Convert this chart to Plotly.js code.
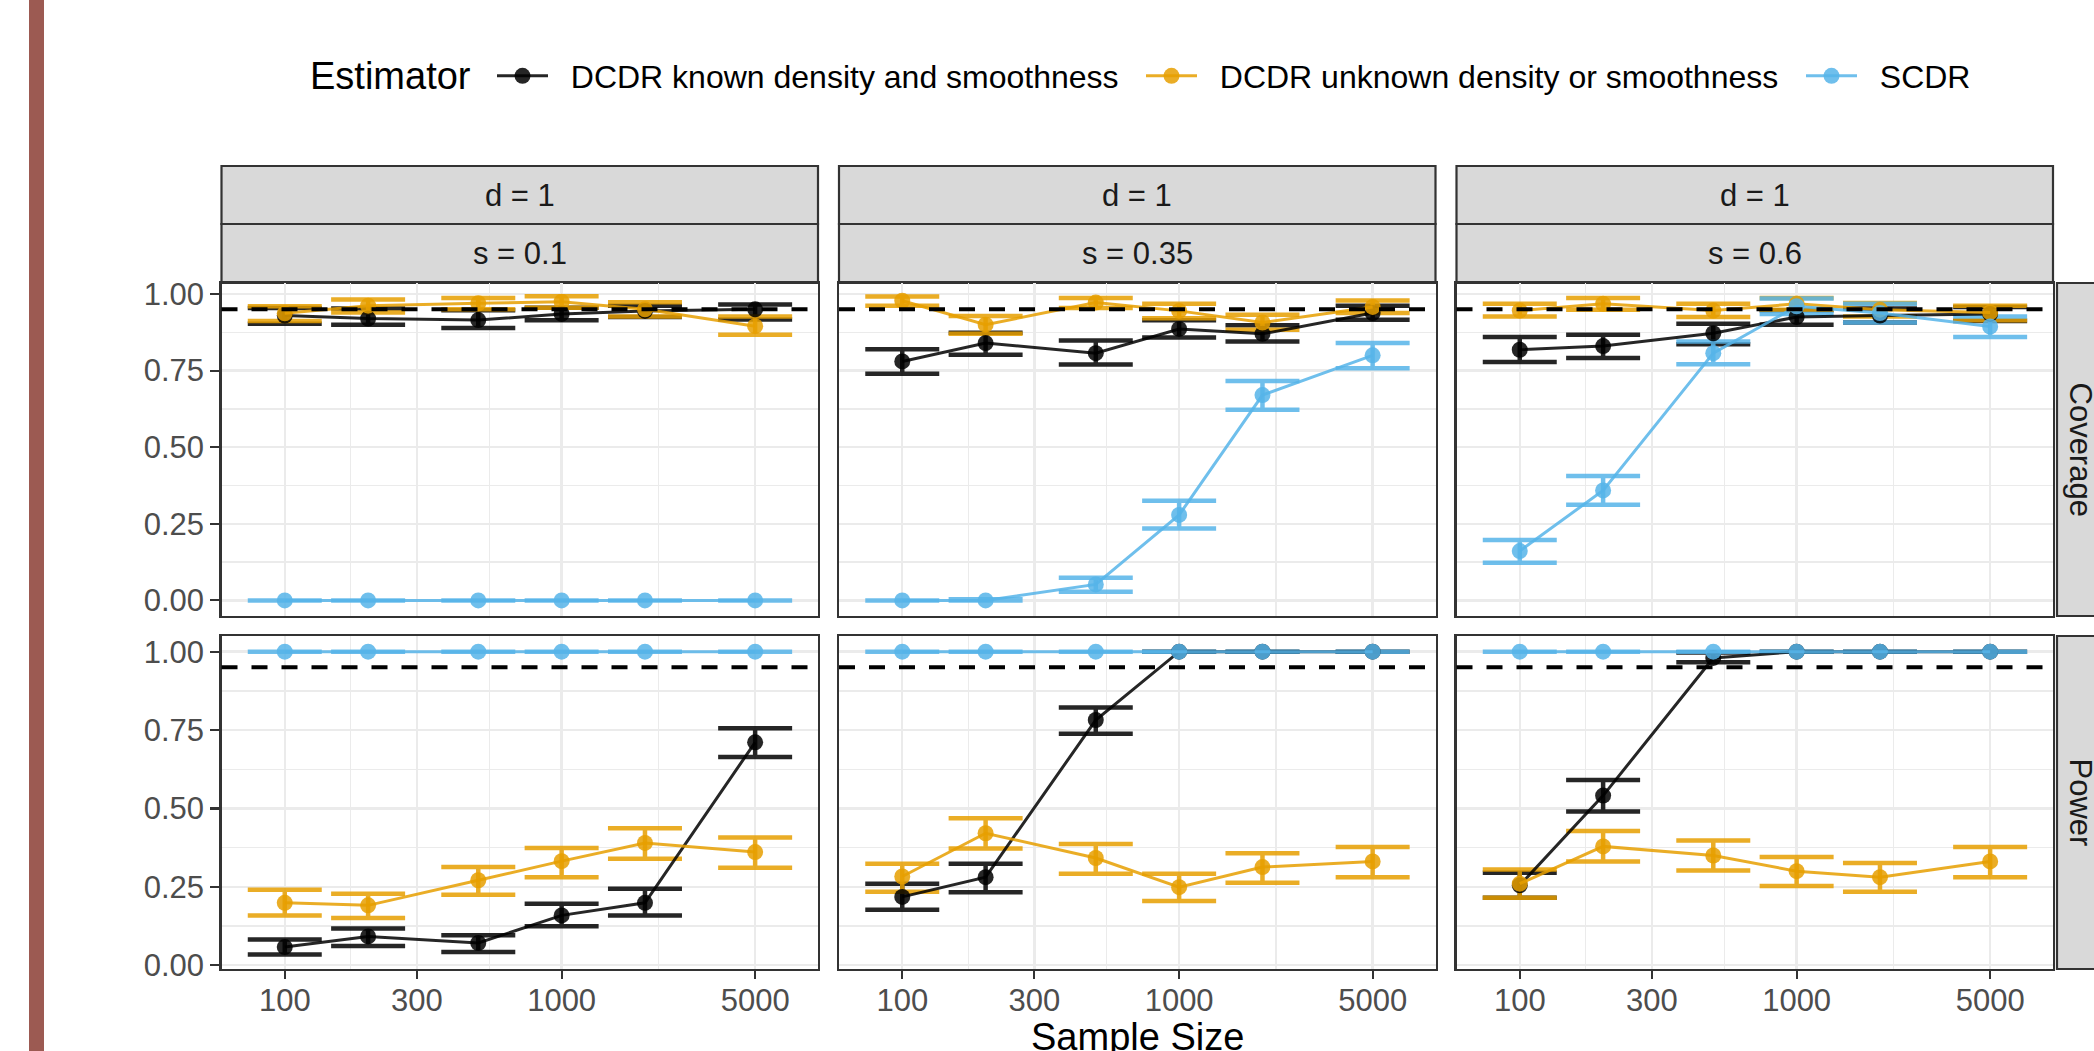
<!DOCTYPE html>
<html><head><meta charset="utf-8">
<script src="https://cdn.plot.ly/plotly-3.0.1.min.js"></script>
<style>html,body{margin:0;padding:0;background:#fff;overflow:hidden}</style>
</head><body><div id="chart" style="width:2094px;height:1051px"></div>
<script>
// ---------------- data ----------------
const sampleSizes = [100, 200, 500, 1000, 2000, 5000];
const xTickVals = [100, 300, 1000, 5000];
const xTickText = ['100', '300', '1000', '5000'];
const yTickVals = [0, 0.25, 0.5, 0.75, 1];
const yTickText = ['0.00', '0.25', '0.50', '0.75', '1.00'];
const dLevel = 1;
const sLevels = [0.1, 0.35, 0.6];
const metrics = ['Coverage', 'Power'];
const legendTitle = 'Estimator';
const estimators = ['DCDR known density and smoothness', 'DCDR unknown density or smoothness', 'SCDR'];
const nominalLevel = 0.95;

// Coverage, s = 0.1
const covS01KnownMean = [0.930, 0.920, 0.915, 0.935, 0.945, 0.950];
const covS01KnownLow  = [0.903, 0.900, 0.889, 0.914, 0.925, 0.917];
const covS01KnownHigh = [0.954, 0.953, 0.947, 0.955, 0.962, 0.966];
const covS01UnknownMean = [0.937, 0.962, 0.970, 0.975, 0.950, 0.895];
const covS01UnknownLow  = [0.912, 0.940, 0.950, 0.955, 0.927, 0.867];
const covS01UnknownHigh = [0.960, 0.982, 0.987, 0.993, 0.973, 0.927];
const covS01ScdrMean = [0, 0, 0, 0, 0, 0];
const covS01ScdrLow  = [0, 0, 0, 0, 0, 0];
const covS01ScdrHigh = [0, 0, 0, 0, 0, 0];
// Coverage, s = 0.35
const covS035KnownMean = [0.780, 0.840, 0.807, 0.886, 0.870, 0.938];
const covS035KnownLow  = [0.740, 0.802, 0.770, 0.858, 0.845, 0.916];
const covS035KnownHigh = [0.820, 0.874, 0.848, 0.914, 0.898, 0.962];
const covS035UnknownMean = [0.978, 0.900, 0.972, 0.945, 0.907, 0.958];
const covS035UnknownLow  = [0.962, 0.870, 0.954, 0.921, 0.883, 0.938];
const covS035UnknownHigh = [0.992, 0.928, 0.987, 0.968, 0.932, 0.979];
const covS035ScdrMean = [0, 0, 0.052, 0.279, 0.670, 0.800];
const covS035ScdrLow  = [0, 0, 0.028, 0.235, 0.622, 0.758];
const covS035ScdrHigh = [0, 0.004, 0.074, 0.325, 0.716, 0.840];
// Coverage, s = 0.6
const covS06KnownMean = [0.818, 0.830, 0.872, 0.925, 0.930, 0.935];
const covS06KnownLow  = [0.778, 0.791, 0.836, 0.900, 0.907, 0.912];
const covS06KnownHigh = [0.860, 0.867, 0.903, 0.947, 0.953, 0.958];
const covS06UnknownMean = [0.946, 0.968, 0.946, 0.968, 0.949, 0.940];
const covS06UnknownLow  = [0.927, 0.949, 0.925, 0.949, 0.927, 0.914];
const covS06UnknownHigh = [0.968, 0.987, 0.968, 0.987, 0.971, 0.962];
const covS06ScdrMean = [0.161, 0.359, 0.807, 0.960, 0.938, 0.894];
const covS06ScdrLow  = [0.123, 0.312, 0.771, 0.935, 0.907, 0.860];
const covS06ScdrHigh = [0.197, 0.406, 0.845, 0.985, 0.968, 0.927];
// Power, s = 0.1
const powS01KnownMean = [0.058, 0.092, 0.071, 0.159, 0.199, 0.711];
const powS01KnownLow  = [0.034, 0.061, 0.042, 0.124, 0.159, 0.664];
const powS01KnownHigh = [0.082, 0.117, 0.096, 0.196, 0.244, 0.756];
const powS01UnknownMean = [0.199, 0.191, 0.271, 0.332, 0.390, 0.361];
const powS01UnknownLow  = [0.159, 0.151, 0.225, 0.281, 0.340, 0.311];
const powS01UnknownHigh = [0.241, 0.228, 0.313, 0.374, 0.437, 0.407];
const powS01ScdrMean = [1, 1, 1, 1, 1, 1];
const powS01ScdrLow  = [1, 1, 1, 1, 1, 1];
const powS01ScdrHigh = [1, 1, 1, 1, 1, 1];
// Power, s = 0.35
const powS035KnownMean = [0.218, 0.281, 0.782, 1, 1, 1];
const powS035KnownLow  = [0.177, 0.233, 0.738, 1, 1, 1];
const powS035KnownHigh = [0.260, 0.324, 0.822, 1, 1, 1];
const powS035UnknownMean = [0.283, 0.421, 0.342, 0.249, 0.313, 0.331];
const powS035UnknownLow  = [0.234, 0.372, 0.292, 0.205, 0.263, 0.281];
const powS035UnknownHigh = [0.324, 0.469, 0.387, 0.292, 0.357, 0.377];
const powS035ScdrMean = [1, 1, 1, 1, 1, 1];
const powS035ScdrLow  = [1, 1, 1, 1, 1, 1];
const powS035ScdrHigh = [1, 1, 1, 1, 1, 1];
// Power, s = 0.6
const powS06KnownMean = [0.255, 0.541, 0.980, 1, 1, 1];
const powS06KnownLow  = [0.215, 0.490, 0.966, 1, 1, 1];
const powS06KnownHigh = [0.295, 0.591, 0.997, 1, 1, 1];
const powS06UnknownMean = [0.260, 0.379, 0.350, 0.300, 0.281, 0.331];
const powS06UnknownLow  = [0.215, 0.331, 0.302, 0.253, 0.234, 0.281];
const powS06UnknownHigh = [0.305, 0.428, 0.398, 0.345, 0.326, 0.377];
const powS06ScdrMean = [1, 1, 1, 1, 1, 1];
const powS06ScdrLow  = [1, 1, 1, 1, 1, 1];
const powS06ScdrHigh = [1, 1, 1, 1, 1, 1];

const panelData = [
  [
    [[covS01KnownMean, covS01KnownLow, covS01KnownHigh], [covS01UnknownMean, covS01UnknownLow, covS01UnknownHigh], [covS01ScdrMean, covS01ScdrLow, covS01ScdrHigh]],
    [[covS035KnownMean, covS035KnownLow, covS035KnownHigh], [covS035UnknownMean, covS035UnknownLow, covS035UnknownHigh], [covS035ScdrMean, covS035ScdrLow, covS035ScdrHigh]],
    [[covS06KnownMean, covS06KnownLow, covS06KnownHigh], [covS06UnknownMean, covS06UnknownLow, covS06UnknownHigh], [covS06ScdrMean, covS06ScdrLow, covS06ScdrHigh]]
  ],
  [
    [[powS01KnownMean, powS01KnownLow, powS01KnownHigh], [powS01UnknownMean, powS01UnknownLow, powS01UnknownHigh], [powS01ScdrMean, powS01ScdrLow, powS01ScdrHigh]],
    [[powS035KnownMean, powS035KnownLow, powS035KnownHigh], [powS035UnknownMean, powS035UnknownLow, powS035UnknownHigh], [powS035ScdrMean, powS035ScdrLow, powS035ScdrHigh]],
    [[powS06KnownMean, powS06KnownLow, powS06KnownHigh], [powS06UnknownMean, powS06UnknownLow, powS06UnknownHigh], [powS06ScdrMean, powS06ScdrLow, powS06ScdrHigh]]
  ]
];

// ---------------- styling / layout ----------------
const W = 2094, H = 1051;
const seriesRGB = [[0, 0, 0], [230, 159, 0], [86, 180, 233]];
const seriesAlpha = 0.85;
const col = k => 'rgba(' + seriesRGB[k].join(',') + ',' + seriesAlpha + ')';
const colX = [[221.5, 818], [839, 1435.5], [1456.5, 2053]];
const rowY = [[283, 616], [636, 969]];
const stripRowsY = [[166, 224], [224, 283]];
const rightStripX = [2057, 2115];
const xRangeLog = [1.7715, 3.926];
const yRanges = [[-0.051, 1.036], [-0.012, 1.05]];
const FONT = 'Liberation Sans, Arial, sans-serif';
const gridCol = '#EBEBEB';
const borderCol = '#333333';
const legendKeyX = [492, 1141, 1801];
const legendRowY = 76;
const PAD = '\u00A0\u00A0';

const px2x = p => p / W;
const px2y = p => 1 - p / H;

const xMinor = xTickVals.slice(1).map((v, i) => Math.sqrt(v * xTickVals[i]));
const yMinor = yTickVals.slice(1).map((v, i) => (v + yTickVals[i]) / 2);

const traces = [];
const layout = {
  width: W, height: H,
  margin: {l: 0, r: 0, t: 0, b: 0, autoexpand: false},
  paper_bgcolor: '#ffffff', plot_bgcolor: '#ffffff',
  font: {family: FONT, color: '#000'},
  showlegend: true,
  shapes: [], annotations: []
};

for (let r = 0; r < 2; r++) {
  for (let c = 0; c < 3; c++) {
    const n = r * 3 + c + 1;
    const xr = n === 1 ? 'x' : 'x' + n;
    const yr = n === 1 ? 'y' : 'y' + n;
    const series = panelData[r][c];
    // error bars (all series first, as ggplot layers)
    series.forEach((s, k) => {
      traces.push({
        type: 'scatter', mode: 'markers', x: sampleSizes, y: s[0], xaxis: xr, yaxis: yr,
        marker: {size: 1, color: 'rgba(0,0,0,0)'},
        error_y: {type: 'data', symmetric: false,
          array: s[2].map((h, i) => h - s[0][i]),
          arrayminus: s[0].map((m, i) => m - s[1][i]),
          color: col(k), thickness: 4.5, width: 37},
        showlegend: false, hoverinfo: 'skip'
      });
    });
    series.forEach((s, k) => {
      traces.push({
        type: 'scatter', mode: 'lines+markers', x: sampleSizes, y: s[0], xaxis: xr, yaxis: yr,
        name: PAD + estimators[k],
        line: {color: col(k), width: 3},
        marker: {color: col(k), size: 16},
        showlegend: n === 1,
        legend: ['legend', 'legend2', 'legend3'][k],
        hoverinfo: 'skip'
      });
    });
    const xKey = n === 1 ? 'xaxis' : 'xaxis' + n;
    const yKey = n === 1 ? 'yaxis' : 'yaxis' + n;
    layout[xKey] = {
      type: 'log', range: xRangeLog,
      domain: [px2x(colX[c][0]), px2x(colX[c][1])],
      anchor: yr,
      tickmode: 'array', tickvals: xTickVals, ticktext: xTickText,
      showticklabels: r === 1,
      ticks: r === 1 ? 'outside' : '', ticklen: 8, tickwidth: 2.2, tickcolor: borderCol,
      ticklabelstandoff: -5,
      tickfont: {size: 31, color: '#4D4D4D', family: FONT},
      showgrid: true, gridcolor: gridCol, gridwidth: 2.4,
      minor: {tickmode: 'array', tickvals: xMinor, showgrid: true, gridcolor: gridCol, gridwidth: 1.3, ticks: ''},
      showline: true, mirror: true, linecolor: borderCol, linewidth: 2.2,
      zeroline: false, fixedrange: true
    };
    layout[yKey] = {
      range: yRanges[r],
      domain: [px2y(rowY[r][1]), px2y(rowY[r][0])],
      anchor: xr,
      tickmode: 'array', tickvals: yTickVals, ticktext: yTickText,
      showticklabels: c === 0,
      ticks: c === 0 ? 'outside' : '', ticklen: 9, tickwidth: 2.2, tickcolor: borderCol,
      tickfont: {size: 31, color: '#4D4D4D', family: FONT},
      showgrid: true, gridcolor: gridCol, gridwidth: 2.4,
      minor: {tickmode: 'array', tickvals: yMinor, showgrid: true, gridcolor: gridCol, gridwidth: 1.3, ticks: ''},
      showline: true, mirror: true, linecolor: borderCol, linewidth: 2.2,
      zeroline: false, fixedrange: true
    };
    // nominal 95% reference line
    layout.shapes.push({
      type: 'line', xref: xr + ' domain', x0: 0, x1: 1, yref: yr, y0: nominalLevel, y1: nominalLevel,
      line: {color: '#000', width: 4, dash: '16px,14px'}, layer: 'above'
    });
  }
}

// top strips
const stripTexts = [sLevels.map(() => 'd = ' + dLevel), sLevels.map(s => 's = ' + s)];
for (let c = 0; c < 3; c++) {
  for (let k = 0; k < 2; k++) {
    layout.shapes.push({type: 'rect', xref: 'paper', yref: 'paper',
      x0: px2x(colX[c][0]), x1: px2x(colX[c][1]), y0: px2y(stripRowsY[k][1]), y1: px2y(stripRowsY[k][0]),
      fillcolor: '#D9D9D9', line: {color: borderCol, width: 2.2}, layer: 'below'});
    layout.annotations.push({xref: 'paper', yref: 'paper', showarrow: false,
      x: px2x((colX[c][0] + colX[c][1]) / 2), y: px2y((stripRowsY[k][0] + stripRowsY[k][1]) / 2),
      xanchor: 'center', yanchor: 'middle', text: stripTexts[k][c],
      font: {size: 31, color: '#1A1A1A', family: FONT}});
  }
}
// right strips
for (let r = 0; r < 2; r++) {
  layout.shapes.push({type: 'rect', xref: 'paper', yref: 'paper',
    x0: px2x(rightStripX[0]), x1: px2x(rightStripX[1]), y0: px2y(rowY[r][1]), y1: px2y(rowY[r][0]),
    fillcolor: '#D9D9D9', line: {color: borderCol, width: 2.2}, layer: 'below'});
  layout.annotations.push({xref: 'paper', yref: 'paper', showarrow: false,
    x: px2x(2080), y: px2y((rowY[r][0] + rowY[r][1]) / 2),
    xanchor: 'center', yanchor: 'middle', textangle: 90, text: metrics[r],
    font: {size: 31, color: '#1A1A1A', family: FONT}});
}
// x-axis title
layout.annotations.push({xref: 'paper', yref: 'paper', showarrow: false,
  x: px2x((colX[0][0] + colX[2][1]) / 2), y: px2y(1037), xanchor: 'center', yanchor: 'middle',
  text: 'Sample Size', font: {size: 38, color: '#000', family: FONT}});
// legend title
layout.annotations.push({xref: 'paper', yref: 'paper', showarrow: false,
  x: px2x(308), y: px2y(legendRowY), xanchor: 'left', yanchor: 'middle',
  text: legendTitle, font: {size: 38, color: '#000', family: FONT}});

// left decorative bar
layout.shapes.push({type: 'rect', xref: 'paper', yref: 'paper', x0: px2x(29), x1: px2x(44), y0: 0, y1: 1,
  fillcolor: '#9C5A52', line: {width: 0}, layer: 'below'});

// legends
const legBase = {orientation: 'h', yanchor: 'middle', xanchor: 'left', y: px2y(legendRowY),
  bgcolor: 'rgba(0,0,0,0)', borderwidth: 0, itemwidth: 51,
  font: {size: 32, color: '#000', family: FONT}, itemclick: false, itemdoubleclick: false};
layout.legend = Object.assign({}, legBase, {x: px2x(legendKeyX[0])});
layout.legend2 = Object.assign({}, legBase, {x: px2x(legendKeyX[1])});
layout.legend3 = Object.assign({}, legBase, {x: px2x(legendKeyX[2])});

Plotly.newPlot('chart', traces, layout, {staticPlot: true, displayModeBar: false});
</script></body></html>
